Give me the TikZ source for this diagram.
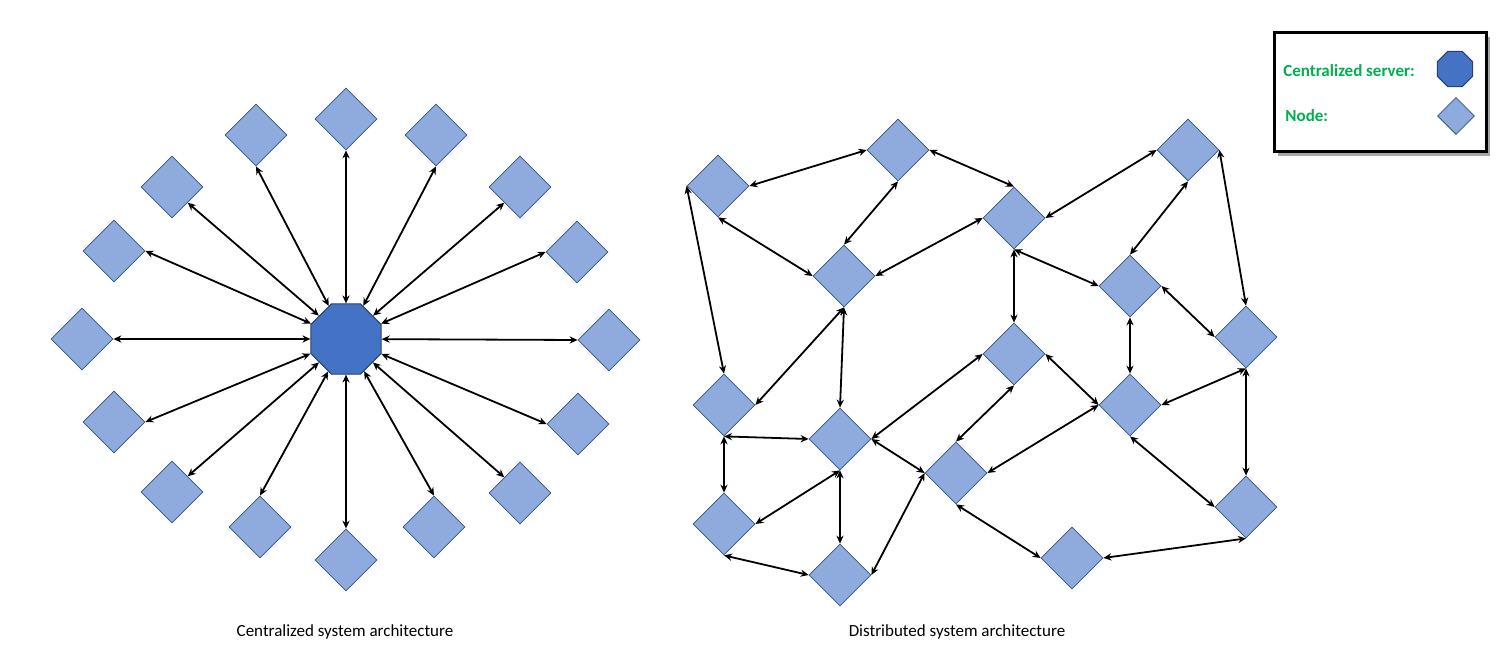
\documentclass[tikz,border=0pt]{standalone}
\usepackage{fontspec}
\setmainfont{Carlito}
\usetikzlibrary{shapes.geometric,arrows.meta}
\definecolor{peerfill}{HTML}{8FAADC}
\definecolor{peerline}{HTML}{2F528F}
\definecolor{serverfill}{HTML}{4472C4}
\definecolor{legendgreen}{HTML}{00B050}
\begin{document}
\begin{tikzpicture}[x=0.5pt,y=-0.5pt,>={Stealth[length=4pt,width=3.6pt]},
    peer/.style={diamond,draw=peerline,fill=peerfill,line width=0.4pt,minimum size=31pt,inner sep=0pt},
    server/.style={regular polygon,regular polygon sides=8,draw=peerline!80!black,fill=serverfill,line width=0.5pt,minimum size=38pt,inner sep=0pt},
    link/.style={<->,line width=0.9pt},
    caption/.style={font=\fontsize{8.5}{10}\selectfont}]
    \useasboundingbox (0,0) rectangle (1510,667);

    % centralized
    \node[server] (srv) at (346,339) {};
    \node[peer] (c1) at (346,119) {};
    \node[peer] (c2) at (256,135) {};
    \node[peer] (c3) at (436,135) {};
    \node[peer] (c4) at (172,187) {};
    \node[peer] (c5) at (520,187) {};
    \node[peer] (c6) at (114,251) {};
    \node[peer] (c7) at (577,252) {};
    \node[peer] (c8) at (82,339) {};
    \node[peer] (c9) at (609,340) {};
    \node[peer] (c10) at (114,422) {};
    \node[peer] (c11) at (578,424) {};
    \node[peer] (c12) at (172,492) {};
    \node[peer] (c13) at (520,493) {};
    \node[peer] (c14) at (260,527) {};
    \node[peer] (c15) at (434,527) {};
    \node[peer] (c16) at (346,560) {};
    \draw[link] (srv) -- (c1.south);
    \draw[link] (srv) -- (c2.south);
    \draw[link] (srv) -- (c3.south);
    \draw[link] (srv) -- (c4.south east);
    \draw[link] (srv) -- (c5.south west);
    \draw[link] (srv) -- (c6.east);
    \draw[link] (srv) -- (c7.west);
    \draw[link] (srv) -- (c8.east);
    \draw[link] (srv) -- (c9.west);
    \draw[link] (srv) -- (c10.east);
    \draw[link] (srv) -- (c11.west);
    \draw[link] (srv) -- (c12.north east);
    \draw[link] (srv) -- (c13.north west);
    \draw[link] (srv) -- (c14.north);
    \draw[link] (srv) -- (c15.north);
    \draw[link] (srv) -- (c16.north);
    \node[caption] (capc) at (345,632) {Centralized system architecture};

    % distributed
    \node[peer] (a) at (718,186) {};
    \node[peer] (b) at (898,150) {};
    \node[peer] (c) at (1014,218) {};
    \node[peer] (d) at (844,276) {};
    \node[peer] (e) at (724,405) {};
    \node[peer] (f) at (840,439) {};
    \node[peer] (g) at (1014,354) {};
    \node[peer] (h) at (956,473) {};
    \node[peer] (i) at (724,524) {};
    \node[peer] (j) at (840,575) {};
    \node[peer] (k) at (1072,558) {};
    \node[peer] (l) at (1188,150) {};
    \node[peer] (m) at (1130,286) {};
    \node[peer] (n) at (1246,337) {};
    \node[peer] (o) at (1130,405) {};
    \node[peer] (p) at (1246,507) {};
    \draw[link] (a.east) -- (b.west);
    \draw[link] (b.east) -- (c.north);
    \draw[link] (b.south) -- (d.north);
    \draw[link] (a.south) -- (d.west);
    \draw[link] (d.east) -- (c.west);
    \draw[link] (c.east) -- (l.west);
    \draw[link] (c.south) -- (m.west);
    \draw[link] (c.south) -- (g.north);
    \draw[link] (a.west) -- (e.north);
    \draw[link] (d.south) -- (e.east);
    \draw[link] (d.south) -- (f.north);
    \draw[link] (e.south) -- (f.west);
    \draw[link] (e.south) -- (i.north);
    \draw[link] (f.south) -- (i.east);
    \draw[link] (f.south) -- (j.north);
    \draw[link] (i.south) -- (j.west);
    \draw[link] (j.east) -- (h.west);
    \draw[link] (f.east) -- (h.west);
    \draw[link] (f.east) -- (g.west);
    \draw[link] (g.south) -- (h.north);
    \draw[link] (g.east) -- (o.west);
    \draw[link] (h.east) -- (o.west);
    \draw[link] (h.south) -- (k.west);
    \draw[link] (k.east) -- (p.south);
    \draw[link] (m.north) -- (l.south);
    \draw[link] (l.east) -- (n.north);
    \draw[link] (m.east) -- (n.west);
    \draw[link] (m.south) -- (o.north);
    \draw[link] (o.east) -- (n.south);
    \draw[link] (n.south) -- (p.north);
    \draw[link] (o.south) -- (p.west);
    \node[caption] (capd) at (957,632) {Distributed system architecture};

    % legend
    \fill[black!35] (1278,37) rectangle (1490,156);
    \draw[fill=white,line width=1.5pt] (1274,33) rectangle (1486,152);
    \node[anchor=west,font=\fontsize{8.5}{10}\selectfont\bfseries,text=legendgreen,inner sep=0pt] (lsrv) at (1283,71) {Centralized server:};
    \node[anchor=west,font=\fontsize{8.5}{10}\selectfont\bfseries,text=legendgreen,inner sep=0pt] (lpeer) at (1285,116) {Node:};
    \node[server,minimum size=19pt] (ksrv) at (1455,69) {};
    \node[peer,minimum size=18.5pt] (kpeer) at (1456,116) {};
\end{tikzpicture}
\end{document}
